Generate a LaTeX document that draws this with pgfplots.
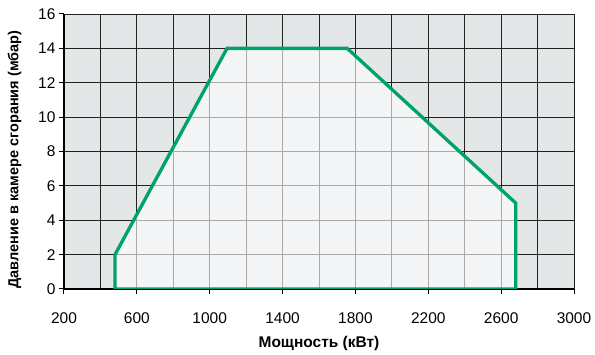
\documentclass[border=0pt]{standalone}
\usepackage{pgfplots}
\pgfplotsset{compat=1.18}
\usepackage{fontspec}
\setmainfont{Liberation Sans}
\definecolor{bggray}{HTML}{E4E7E8}
\definecolor{gridc}{HTML}{222222}
\definecolor{brgreen}{HTML}{00A26C}
\begin{document}
\begin{tikzpicture}
\begin{axis}[
  scale only axis,
  width=510pt, height=275pt,
  xmin=200, xmax=3000, ymin=0, ymax=16,
  xtick={200,600,...,3000},
  minor xtick={400,800,...,2800},
  ytick={0,2,...,16},
  grid=both,
  grid style={color=gridc, line width=0.9pt},
  minor grid style={color=gridc, line width=0.9pt},
  axis background/.style={fill=bggray},
  axis x line*=bottom, axis y line*=left,
  axis line style={line width=1.6pt, -},
  tick align=outside,
  major tick length=5pt, minor tick length=0pt,
  tick style={black, line width=1pt},
  /pgf/number format/assume math mode=true,
  /pgf/number format/1000 sep={},
  ticklabel style={font=\fontsize{15.5}{17}\selectfont},
  xticklabel style={yshift=-15pt},
  xlabel={\textbf{Мощность (кВт)}},
  ylabel={\textbf{Давление в камере сгорания (мбар)}},
  xlabel style={font=\fontsize{15.5}{17}\selectfont, yshift=-6pt},
  ylabel style={font=\fontsize{14.5}{17}\selectfont, yshift=10pt, xshift=-8pt},
]
\coordinate (sw) at (rel axis cs:0,0);
\addplot[fill=white, fill opacity=0.62, draw=none] coordinates {
 (480,0) (480,2) (1095,14) (1755,14) (2680,5) (2680,0)} -- cycle;
\addplot[brgreen, line width=3.3pt, line join=miter] coordinates {
 (480,0) (480,2) (1095,14) (1755,14) (2680,5) (2680,0)} -- cycle;
\end{axis}
\path[use as bounding box] (sw) ++(-64pt,-63pt) rectangle ++(595pt,352pt);
\end{tikzpicture}
\end{document}
